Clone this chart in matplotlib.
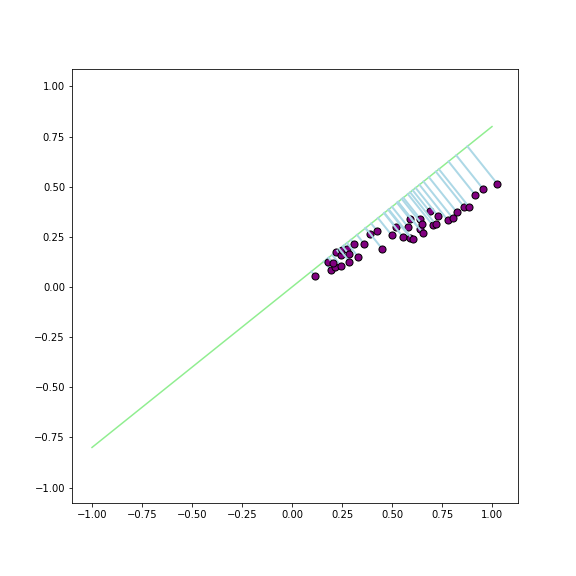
import numpy as np
import matplotlib
matplotlib.use('Agg')
import matplotlib.pyplot as plt

# Dữ liệu điểm
x_pts = [0.115, 0.195, 0.215, 0.247, 0.182, 0.203, 0.218, 0.245, 0.248, 0.277,
         0.284, 0.287, 0.312, 0.332, 0.360, 0.391, 0.427, 0.452, 0.498, 0.518,
         0.557, 0.580, 0.592, 0.603, 0.590, 0.640, 0.638, 0.650, 0.655, 0.688,
         0.703, 0.718, 0.732, 0.778, 0.803, 0.825, 0.862, 0.887, 0.917, 0.957,
         1.027]
y_pts = [0.055, 0.083, 0.100, 0.103, 0.127, 0.120, 0.176, 0.158, 0.186, 0.190,
         0.164, 0.127, 0.214, 0.149, 0.216, 0.262, 0.278, 0.189, 0.259, 0.300,
         0.247, 0.300, 0.246, 0.238, 0.339, 0.341, 0.288, 0.313, 0.268, 0.377,
         0.309, 0.313, 0.352, 0.334, 0.344, 0.372, 0.397, 0.397, 0.458, 0.487,
         0.514]

# Đường thẳng chính y = 0.8 x
line_x = [-1.0, 1.0]
line_slope = 0.8

pts = np.column_stack([x_pts, y_pts])
direction = np.array([1.0, line_slope])
direction = direction / np.linalg.norm(direction)
proj = np.outer(pts @ direction, direction)

fig = plt.figure(figsize=(8, 8), dpi=72)
ax = fig.add_axes([72 / 576, 73 / 576, 446 / 576, 434 / 576])

ax.plot(line_x, [line_slope * v for v in line_x], color='lightgreen', lw=1.5)
# vẽ từng điểm cùng đoạn chiếu của nó
for p, q in zip(pts, proj):
    ax.plot([p[0], q[0]], [p[1], q[1]], color='lightblue', lw=2, zorder=2)
    ax.scatter([p[0]], [p[1]], color='purple', edgecolor='black', s=50, zorder=2)

ax.set_xlim(-1.1, 1.13)
ax.set_ylim(-1.077, 1.087)
ax.set_xticks(np.arange(-1.0, 1.01, 0.25))
ax.set_yticks(np.arange(-1.0, 1.01, 0.25))

plt.savefig('out.png', dpi=72)
